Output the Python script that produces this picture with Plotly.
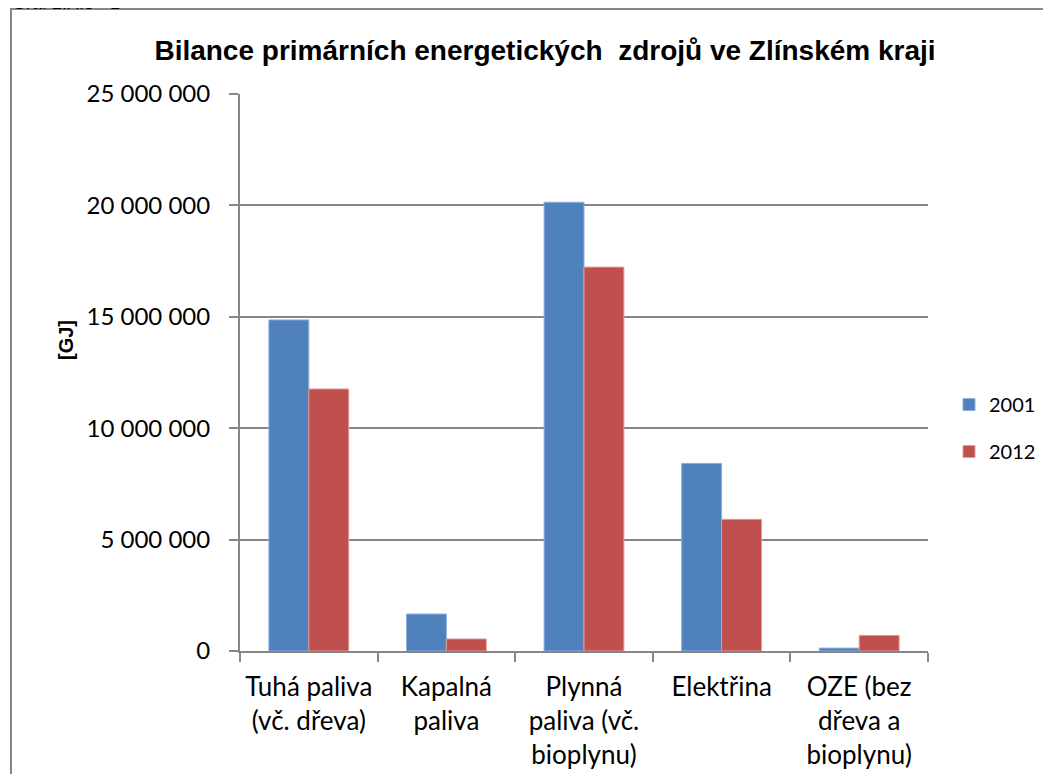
import plotly.graph_objects as go

categories = ["Tuhá paliva<br>(vč. dřeva)", "Kapalná<br>paliva", "Plynná<br>paliva (vč.<br>bioplynu)",
              "Elektřina", "OZE (bez<br>dřeva a<br>bioplynu)"]
values_2001 = [14860000, 1660000, 20140000, 8420000, 130000]
values_2012 = [11760000, 540000, 17230000, 5910000, 700000]
series_names = ["2001", "2012"]
y_ticks = [0, 5000000, 10000000, 15000000, 20000000, 25000000]

OFF = 8  # page body margin
W, H = 1041, 766
L, R, T, B = 240 - OFF, 928 - OFF, 94 - OFF, 651 - OFF

fig = go.Figure()
fig.add_trace(go.Bar(x=categories, y=values_2001, name=series_names[0], legendgroup="a",
                     marker=dict(color="#4F81BD", line=dict(color="#8EAEDB", width=1))))
fig.add_trace(go.Bar(x=categories, y=values_2012, name=series_names[1], legendgroup="b",
                     marker=dict(color="#C0504D", line=dict(color="#E09A98", width=1))))

def px(xr):
    return (xr - OFF - L) / (R - L)

def py(yr):
    return (B - (yr - OFF)) / (B - T)

fig.update_layout(
    width=W, height=H,
    margin=dict(l=L, r=W - R, t=T, b=H - B, autoexpand=False),
    paper_bgcolor="white", plot_bgcolor="white",
    separators=", ",
    barmode="group", bargap=0.42, bargroupgap=0,
    font=dict(family="Lato, sans-serif", color="black"),
    title=dict(text="<b>Bilance primárních energetických  zdrojů ve Zlínském kraji</b>",
               font=dict(family="Liberation Sans, Arial, sans-serif", size=28, color="black"),
               x=(545 - OFF) / W, xanchor="center", y=1 - (50 - OFF) / H, yanchor="middle"),
    legend=dict(x=px(949), xanchor="left", y=py(428), yanchor="middle",
                font=dict(size=20, family="Lato, sans-serif"), tracegroupgap=18,
                itemwidth=30, bgcolor="rgba(0,0,0,0)"),
    showlegend=True,
    xaxis=dict(showline=True, linecolor="#868686", linewidth=2,
               ticks="outside", ticklen=9, tickcolor="#868686", tickwidth=2,
               tickson="boundaries", tickfont=dict(size=26, family="Lato, sans-serif"),
               ticklabelstandoff=12,
               showgrid=False, fixedrange=True),
    yaxis=dict(range=[0, 25000000], tickvals=y_ticks, tickformat=",d",
               showline=True, linecolor="#868686", linewidth=2,
               ticks="outside", ticklen=9, tickcolor="#868686", tickwidth=2,
               ticklabelstandoff=14,
               showgrid=True, gridcolor="#868686", gridwidth=1.5,
               zeroline=False, tickfont=dict(size=24, family="Lato, sans-serif"),
               fixedrange=True),
)

fig.add_annotation(text="<b>[GJ]</b>", xref="paper", yref="paper",
                   x=px(66), y=py(340), xanchor="center", yanchor="middle",
                   textangle=-90, showarrow=False,
                   font=dict(size=20, family="Liberation Sans, Arial, sans-serif", color="black"))

fig.add_shape(type="rect", xref="paper", yref="paper",
              x0=px(11), x1=px(1048), y0=py(800), y1=py(9),
              line=dict(color="#868686", width=2), fillcolor="rgba(0,0,0,0)", layer="below")

fig.add_annotation(text="Graf 2.X.3 - 1", xref="paper", yref="paper",
                   x=px(10), y=py(15), xanchor="left", yanchor="bottom", showarrow=False,
                   font=dict(size=18, family="Liberation Sans, Arial, sans-serif", color="black"))

fig.write_html("out.html")
